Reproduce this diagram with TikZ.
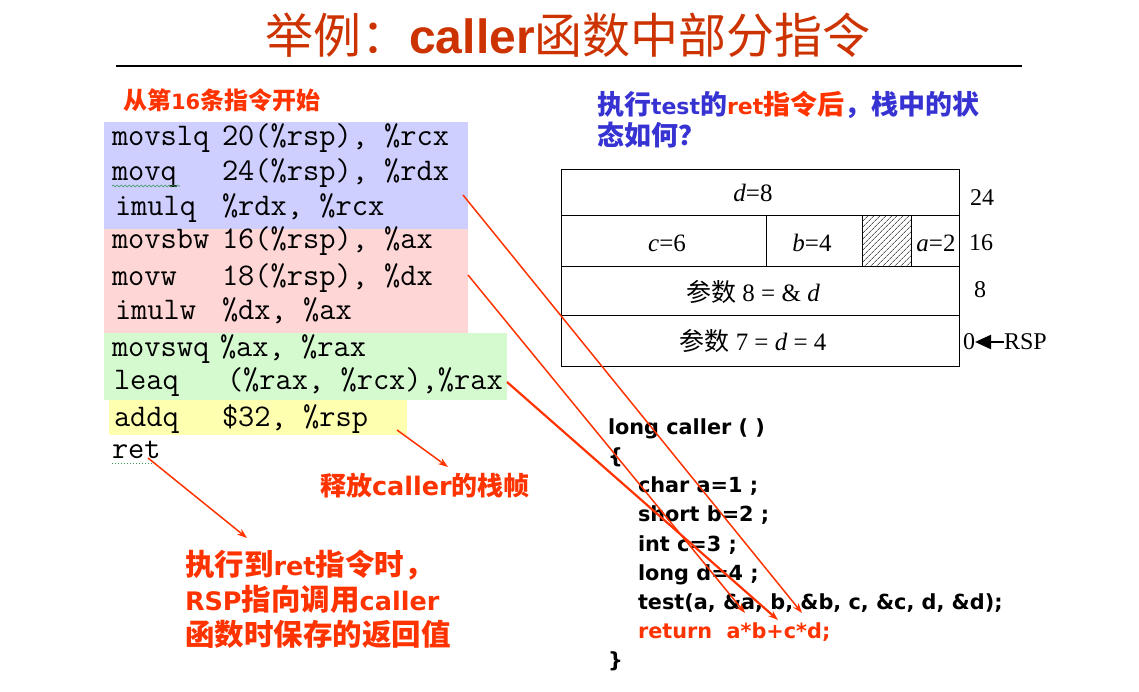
\documentclass[tikz,border=0pt]{standalone}
\usepackage{fontspec}
\setmainfont{Liberation Serif}
\newfontfamily\cjk{Noto Sans CJK SC}
\newfontfamily\arl{Liberation Sans}
\newfontfamily\dvs{DejaVu Sans}
\newcommand\lb[1]{{\dvs\bfseries\fontsize{25.5}{35}\selectfont #1}}
\newcommand\lbq[1]{{\dvs\bfseries\fontsize{22}{31}\selectfont #1}}
\usetikzlibrary{arrows.meta,patterns.meta,decorations.pathmorphing}
\definecolor{titlered}{RGB}{204,51,0}
\definecolor{lblred}{RGB}{255,51,0}
\definecolor{qblue}{RGB}{55,50,210}
\definecolor{bgblue}{RGB}{206,206,255}
\definecolor{bgpink}{RGB}{255,214,214}
\definecolor{bggreen}{RGB}{214,250,208}
\definecolor{bgyellow}{RGB}{255,255,176}
\definecolor{wavy}{RGB}{60,150,90}
\begin{document}
\begin{tikzpicture}[x=1pt,y=-1pt,
 every node/.style={inner sep=0pt, outer sep=0pt},
 asm/.style={font=\ttfamily\fontsize{31.5}{31.5}\selectfont, anchor=base west},
 ccode/.style={font=\dvs\bfseries\fontsize{20.8}{22}\selectfont, anchor=base west},
 redlbl/.style={font=\cjk\bfseries\fontsize{26}{35}\selectfont, text=lblred, anchor=west, align=left},
 arr/.style={draw=lblred, line width=1.5pt, -{Stealth[length=10pt,width=7pt]}},
 stk/.style={font=\fontsize{25}{25}\selectfont},
 stknum/.style={font=\fontsize{24}{24}\selectfont},
]
\useasboundingbox (0,0) rectangle (1139,692);
% title
\node[text=titlered, font=\fontsize{48}{58}\selectfont] (title) at (568,35)
  {{\cjk 举例：}{\arl\bfseries caller}{\cjk 函数中部分指令}};
\draw[line width=1.2pt] (116,66) -- (1022,66);

% left header
\node[font=\cjk\bfseries\fontsize{24}{24}\selectfont, text=lblred, anchor=west] (hdr) at (123,100) {从第{\dvs\bfseries\fontsize{21}{24}\selectfont 16}条指令开始};

% code backgrounds
\fill[bgblue] (104,122) rectangle (468,229);
\fill[bgpink] (104,229) rectangle (468,333);
\fill[bggreen] (104,333) rectangle (507,400);
\fill[bgyellow] (109,400) rectangle (407,435);

% asm code
\node[asm] (i1a) at (112,146) {movslq};  \node[asm] (i1b) at (222,146) {20(\%rsp), \%rcx};
\node[asm] (i2a) at (112,181) {movq};    \node[asm] (i2b) at (222,181) {24(\%rsp), \%rdx};
\node[asm] (i3a) at (115,216) {imulq};   \node[asm] (i3b) at (222,216) {\%rdx, \%rcx};
\node[asm] (i4a) at (112,249) {movsbw};  \node[asm] (i4b) at (222,249) {16(\%rsp), \%ax};
\node[asm] (i5a) at (112,286) {movw};    \node[asm] (i5b) at (222,286) {18(\%rsp), \%dx};
\node[asm] (i6a) at (115,319) {imulw};   \node[asm] (i6b) at (222,319) {\%dx, \%ax};
\node[asm] (i7a) at (112,356) {movswq};  \node[asm] (i7b) at (220,356) {\%ax, \%rax};
\node[asm] (i8a) at (114,389) {leaq};    \node[asm] (i8b) at (227,389) {(\%rax, \%rcx),\%rax};
\node[asm] (i9a) at (114,426) {addq};    \node[asm] (i9b) at (222,426) {\$32, \%rsp};
\node[asm] (i10) at (112,458) {ret};
\draw[wavy, line width=0.6pt, decorate, decoration={snake, segment length=4pt, amplitude=1pt}] (112,186) -- (180,186);
\draw[wavy, line width=1pt, dotted] (112,463) -- (156,463);

% blue question
\node[font=\cjk\bfseries\fontsize{27}{31}\selectfont, text=qblue, anchor=west, align=left] (q) at (597,120)
  {执行\lbq{test}的{\color{lblred}\lbq{ret}指令后}，栈中的状\\态如何？};

% stack table
\draw[line width=1pt] (561,170) rectangle (959,366);
\draw[line width=1pt] (561,216) -- (959,216);
\draw[line width=1pt] (561,267) -- (959,267);
\draw[line width=1pt] (561,315) -- (959,315);
\draw[line width=1pt] (766,216) -- (766,267);
\fill[pattern={Lines[angle=45,distance=4pt,line width=0.6pt]}] (862,216) rectangle (911,267);
\draw[line width=1pt] (862,216) rectangle (911,267);
\node[stk] (d8) at (753,193) {\textit{d}=8};
\node[stk] (c6) at (667,243) {\textit{c}=6};
\node[stk] (b4) at (812,243) {\textit{b}=4};
\node[stk] (a2) at (936,243) {\textit{a}=2};
\node[stk] (p8) at (753,292) {{\cjk 参数} 8 = \& \textit{d}};
\node[stk] (p7) at (753,341) {{\cjk 参数} 7 = \textit{d} = 4};
\node[stknum] (n24) at (982,198) {24};
\node[stknum] (n16) at (981,243) {16};
\node[stknum] (n8) at (980,290) {8};
\node[stknum] (n0) at (969,342) {0};
\node[stknum, anchor=west] (rsp) at (1004,342) {RSP};
\draw[line width=2.2pt, -{Triangle[length=16pt,width=14pt]}] (rsp.west) -- (n0.east);

% C code
\node[ccode] (c1) at (608,434) {long caller ( )};
\node[ccode] (c2) at (608,463) {\{};
\node[ccode] (c3) at (638,492) {char a=1 ;};
\node[ccode] (c4) at (638,521) {short b=2 ;};
\node[ccode] (c5) at (638,551) {int c=3 ;};
\node[ccode] (c6) at (638,580) {long d=4 ;};
\node[ccode] (c7) at (638,609) {test(a, \&a, b, \&b, c, \&c, d, \&d);};
\node[ccode, text=lblred] (c8) at (638,638) {return~ a*b+c*d;};
\node[ccode] (c9) at (608,667) {\}};

% red labels
\node[redlbl] (rel) at (320,486) {释放\lb{caller}的栈帧};
\node[redlbl, font=\cjk\bfseries\fontsize{29.5}{35}\selectfont] (retl) at (185,599) {执行到\lb{ret}指令时，\\\lb{RSP}指向调用\lb{caller}\\函数时保存的返回值};

% arrows
\coordinate (s1) at (463,195); \coordinate (e1) at (802,613);
\coordinate (s2) at (468,275); \coordinate (e2) at (745,613);
\coordinate (s3) at (507,382); \coordinate (e3) at (778,620);
\coordinate (s4) at (397,430); \coordinate (e4) at (448,467);
\coordinate (s5) at (148,458); \coordinate (e5) at (247,538);
\draw[arr] (s1) -- (e1);
\draw[arr] (s2) -- (e2);
\draw[arr, line width=2.2pt] (s3) -- (e3);
\draw[arr] (s4) -- (e4);
\draw[arr] (s5) -- (e5);
\end{tikzpicture}
\end{document}
